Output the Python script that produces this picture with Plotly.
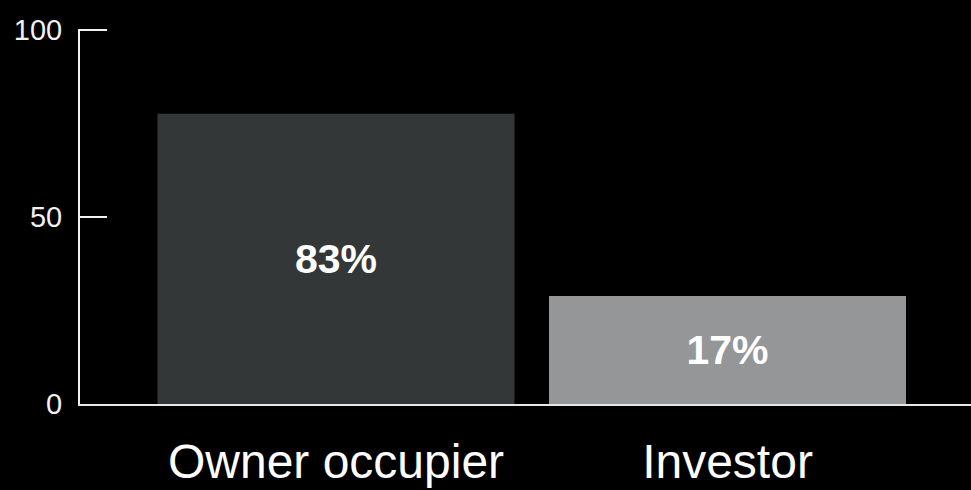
import plotly.graph_objects as go

categories = ["Owner occupier", "Investor"]
bar_values = [77.6, 28.9]
bar_labels = ["83%", "17%"]
bar_colors = ["#333737", "#959697"]
y_ticks = [0, 50, 100]

fig = go.Figure(
    go.Bar(
        x=categories,
        y=bar_values,
        text=bar_labels,
        textposition="inside",
        insidetextanchor="middle",
        textangle=0,
        textfont=dict(family="Liberation Sans, Arial, sans-serif", size=41, color="#ffffff", weight=700),
        marker=dict(color=bar_colors, line=dict(width=0)),
        width=0.912,
        hoverinfo="skip",
    )
)

fig.update_layout(
    width=971,
    height=490,
    paper_bgcolor="#000000",
    plot_bgcolor="#000000",
    margin=dict(l=80, r=0, t=29, b=86),
    showlegend=False,
    font=dict(family="Liberation Sans, Arial, sans-serif", color="#f2f2f2"),
)

fig.update_xaxes(
    range=[-0.654, 1.622],
    showgrid=False,
    zeroline=False,
    showline=True,
    linecolor="#e6e6e6",
    linewidth=2,
    ticks="",
    tickfont=dict(size=48, color="#ffffff"),
    ticklabelstandoff=14,
)

fig.update_yaxes(
    range=[0, 100.3],
    tickvals=y_ticks,
    showgrid=False,
    zeroline=False,
    showline=True,
    linecolor="#f2f2f2",
    linewidth=2,
    ticks="inside",
    ticklen=27,
    tickwidth=2,
    tickcolor="#f2f2f2",
    tickfont=dict(size=29, color="#f2f2f2"),
    ticklabelstandoff=10,
)

fig.write_html(
    "out.html",
    config={"displayModeBar": False},
    post_script="document.body.style.margin='0';document.body.style.background='#000';",
)
